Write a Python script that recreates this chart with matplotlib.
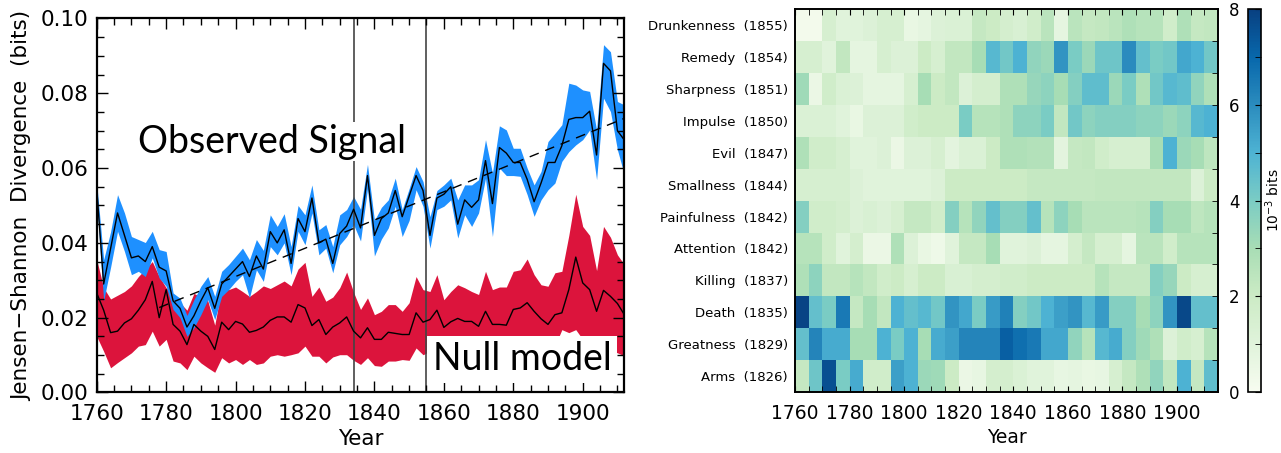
import numpy as np
import matplotlib
matplotlib.use("Agg")
import matplotlib.pyplot as plt
from matplotlib.ticker import MultipleLocator, FixedLocator

plt.rcParams["font.family"] = ["DejaVu Sans"]

# ---- left panel: Jensen-Shannon divergence, observed vs null model ----
years = np.arange(1760, 1913, 2)

obs_mid = [0.0545, 0.029, 0.0385, 0.048, 0.042, 0.036, 0.0365, 0.035, 0.039, 0.0335,
           0.0325, 0.0245, 0.0225, 0.0175, 0.0205, 0.0245, 0.028, 0.0225, 0.029, 0.031,
           0.033, 0.035, 0.031, 0.0365, 0.033, 0.043, 0.040, 0.0435, 0.0345, 0.0465,
           0.043, 0.052, 0.040, 0.041, 0.0345, 0.0425, 0.0445, 0.049, 0.044, 0.058,
           0.042, 0.0465, 0.048, 0.054, 0.047, 0.0525, 0.058, 0.054, 0.042, 0.052,
           0.053, 0.055, 0.045, 0.0515, 0.0495, 0.0515, 0.062, 0.0505, 0.0655, 0.064,
           0.0615, 0.0615, 0.057, 0.051, 0.056, 0.0615, 0.0615, 0.066, 0.073, 0.0735,
           0.0735, 0.0752, 0.0635, 0.088, 0.086, 0.070, 0.0675]
obs_hi = [0.0560, 0.0355, 0.0430, 0.0529, 0.0480, 0.0417, 0.0409, 0.0401, 0.0431, 0.0382,
          0.0377, 0.0266, 0.0252, 0.0206, 0.0248, 0.0284, 0.0310, 0.0257, 0.0324, 0.0342,
          0.0364, 0.0386, 0.0355, 0.0409, 0.0380, 0.0475, 0.0444, 0.0478, 0.0390, 0.0500,
          0.0475, 0.0555, 0.0435, 0.0449, 0.0390, 0.0475, 0.0489, 0.0524, 0.0490, 0.0610,
          0.0460, 0.0495, 0.0515, 0.0573, 0.0489, 0.0545, 0.0604, 0.0564, 0.0470, 0.0540,
          0.0555, 0.0573, 0.0515, 0.0555, 0.0555, 0.0569, 0.0676, 0.0587, 0.0713, 0.0702,
          0.0653, 0.0653, 0.0600, 0.0555, 0.0591, 0.0671, 0.0693, 0.0716, 0.0827, 0.0822,
          0.0809, 0.0805, 0.0702, 0.0930, 0.0911, 0.0778, 0.0769]
obs_lo = [0.0510, 0.0245, 0.0335, 0.0431, 0.0377, 0.0315, 0.0324, 0.0310, 0.0360, 0.0306,
          0.0284, 0.0222, 0.0200, 0.0150, 0.0173, 0.0208, 0.0248, 0.0195, 0.0257, 0.0275,
          0.0297, 0.0315, 0.0253, 0.0328, 0.0297, 0.0390, 0.0368, 0.0400, 0.0315, 0.0431,
          0.0395, 0.0480, 0.0368, 0.0386, 0.0320, 0.0395, 0.0417, 0.0449, 0.0405, 0.0545,
          0.0365, 0.0410, 0.0440, 0.0498, 0.0417, 0.0460, 0.0542, 0.0498, 0.0386, 0.0489,
          0.0498, 0.0515, 0.0413, 0.0475, 0.0444, 0.0480, 0.0573, 0.0417, 0.0600, 0.0580,
          0.0580, 0.0578, 0.0529, 0.0471, 0.0515, 0.0542, 0.0560, 0.0618, 0.0644, 0.0662,
          0.0676, 0.0702, 0.0569, 0.0787, 0.0751, 0.0649, 0.0582]

null_mid = [0.0266, 0.022, 0.016, 0.0164, 0.0186, 0.0197, 0.022, 0.0248, 0.0297, 0.020,
            0.0275, 0.0182, 0.0164, 0.0128, 0.0182, 0.0164, 0.015, 0.0115, 0.0188, 0.0168,
            0.019, 0.0183, 0.0161, 0.0166, 0.0175, 0.0193, 0.0202, 0.0202, 0.0188, 0.0235,
            0.0226, 0.0179, 0.0195, 0.0155, 0.0175, 0.0186, 0.0202, 0.0164, 0.0146, 0.0173,
            0.0142, 0.0142, 0.0161, 0.0158, 0.0155, 0.0155, 0.0213, 0.0188, 0.0195, 0.022,
            0.0174, 0.0189, 0.0198, 0.019, 0.019, 0.0177, 0.0217, 0.0182, 0.0182, 0.018,
            0.0222, 0.0226, 0.024, 0.0217, 0.0197, 0.0182, 0.0208, 0.0213, 0.0275, 0.0362,
            0.0293, 0.0275, 0.0217, 0.0273, 0.0257, 0.0238, 0.0208]
null_hi = [0.0355, 0.0280, 0.0250, 0.0260, 0.0270, 0.0285, 0.0310, 0.0330, 0.0350, 0.0310,
           0.0280, 0.0262, 0.0240, 0.0220, 0.0265, 0.0255, 0.0245, 0.0180, 0.0280, 0.0275,
           0.0282, 0.0270, 0.0257, 0.0270, 0.0285, 0.0278, 0.0288, 0.0298, 0.0285, 0.0330,
           0.0348, 0.0257, 0.0282, 0.0244, 0.0255, 0.0280, 0.0322, 0.0268, 0.0222, 0.0253,
           0.0208, 0.0217, 0.0235, 0.0235, 0.0217, 0.0240, 0.0310, 0.0275, 0.0270, 0.0315,
           0.0248, 0.0270, 0.0288, 0.0280, 0.0270, 0.0262, 0.0324, 0.0275, 0.0282, 0.0282,
           0.0324, 0.0328, 0.0357, 0.0315, 0.0288, 0.0284, 0.0320, 0.0324, 0.0420, 0.0530,
           0.0444, 0.0420, 0.0326, 0.0444, 0.0415, 0.0368, 0.0342]
null_lo = [0.0150, 0.0110, 0.0066, 0.0080, 0.0093, 0.0106, 0.0124, 0.0128, 0.0164, 0.0124,
           0.0142, 0.0084, 0.0079, 0.0061, 0.0097, 0.0079, 0.0066, 0.0054, 0.0093, 0.0079,
           0.0088, 0.0075, 0.0088, 0.0075, 0.0079, 0.0097, 0.0101, 0.0097, 0.0101, 0.0106,
           0.0124, 0.0097, 0.0097, 0.0079, 0.0095, 0.0101, 0.0101, 0.0086, 0.0075, 0.0093,
           0.0072, 0.0070, 0.0084, 0.0084, 0.0088, 0.0086, 0.0119, 0.0101, 0.0110, 0.0115,
           0.0095, 0.0100, 0.0105, 0.0100, 0.0098, 0.0090, 0.0105, 0.0093, 0.0095, 0.0090,
           0.0098, 0.0105, 0.0112, 0.0105, 0.0098, 0.0105, 0.0125, 0.0168, 0.0160, 0.0168,
           0.0142, 0.0128, 0.0124, 0.0119, 0.0113, 0.0106, 0.0098]

trend_years = [1778, 1912]
trend_values = [0.0227, 0.0733]
event_years = [1834, 1855]

# ---- right panel: per-word contribution, 5-year bins ----
bin_edges = np.arange(1760, 1916, 5)
word_labels = ["Arms  (1826)", "Greatness  (1829)", "Death  (1835)", "Killing  (1837)",
               "Attention  (1842)", "Painfulness  (1842)", "Smallness  (1844)", "Evil  (1847)",
               "Impulse  (1850)", "Sharpness  (1851)", "Remedy  (1854)", "Drunkenness  (1855)"]
arms = [2.2, 4.3, 7.6, 4.0, 5.2, 1.8, 1.8, 5.5, 5.0, 3.3, 3.2, 2.0, 0.5, 0.7, 1.6, 1.6,
        1.3, 1.0, 1.0, 0.7, 0.8, 0.6, 0.7, 1.5, 2.2, 2.8, 3.5, 2.3, 5.0, 2.2, 4.6]
greatness = [4.5, 6.2, 5.2, 5.2, 3.0, 3.0, 5.0, 4.0, 5.0, 3.0, 5.2, 5.5, 6.2, 6.2, 6.2, 7.2,
             6.8, 6.5, 5.3, 5.3, 3.5, 2.6, 4.8, 5.2, 3.8, 3.2, 2.8, 1.2, 1.8, 1.5, 2.6]
death = [7.9, 4.5, 4.0, 6.5, 2.2, 3.0, 2.3, 5.0, 4.5, 4.8, 4.2, 5.8, 5.3, 4.0, 5.6, 6.3,
         3.8, 4.2, 5.0, 5.5, 5.8, 4.8, 5.6, 3.8, 3.8, 3.0, 3.6, 5.8, 7.8, 4.5, 4.5]
killing = [2.8, 3.6, 2.3, 2.3, 2.6, 2.3, 1.8, 2.0, 1.5, 2.0, 2.0, 1.4, 1.4, 1.6, 1.6, 1.8,
           1.8, 2.0, 2.0, 2.0, 2.0, 2.0, 2.6, 2.2, 2.2, 2.2, 3.8, 3.4, 2.0, 1.5, 1.5]
attention = [2.6, 2.6, 1.8, 1.0, 1.6, 0.5, 0.5, 2.8, 1.2, 0.6, 0.4, 1.0, 2.2, 2.2, 3.0, 1.0,
             1.0, 1.2, 0.8, 0.8, 1.6, 2.2, 1.5, 1.5, 0.8, 2.5, 2.5, 1.8, 2.6, 2.6, 2.6]
painfulness = [3.8, 1.8, 1.8, 1.6, 1.2, 1.4, 1.2, 1.5, 2.2, 2.2, 1.8, 3.8, 2.6, 3.5, 4.5, 3.8,
               3.8, 4.5, 2.6, 3.6, 3.0, 2.5, 2.5, 2.5, 2.5, 2.6, 3.8, 3.0, 3.0, 2.4, 2.6]
smallness = [1.5, 1.5, 1.5, 1.5, 1.2, 1.0, 1.0, 1.0, 1.0, 1.0, 1.2, 2.0, 2.0, 2.0, 2.0, 2.0,
             2.0, 2.2, 2.2, 2.2, 2.2, 2.2, 2.3, 2.3, 2.3, 2.3, 2.3, 2.3, 2.3, 1.2, 2.0]
evil = [2.8, 1.8, 1.8, 1.5, 1.0, 1.0, 1.2, 0.5, 1.2, 1.2, 1.5, 0.9, 1.3, 1.3, 2.0, 2.8,
        2.8, 2.7, 2.7, 0.9, 2.2, 2.3, 1.8, 1.5, 1.5, 1.5, 3.0, 5.0, 3.3, 3.0, 2.4]
impulse = [1.3, 1.3, 1.3, 1.0, 0.6, 1.2, 1.2, 1.2, 1.8, 2.0, 2.0, 2.0, 4.0, 2.6, 2.6, 2.8,
           3.6, 3.6, 4.0, 2.3, 4.2, 3.6, 3.8, 3.8, 3.8, 3.6, 3.6, 3.3, 3.6, 4.8, 5.0]
sharpness = [3.2, 0.5, 1.8, 1.3, 1.2, 0.8, 0.8, 0.8, 1.5, 3.0, 2.0, 2.3, 1.2, 1.6, 1.6, 2.8,
             2.8, 3.4, 3.6, 3.0, 3.8, 4.6, 4.6, 3.3, 4.0, 2.8, 4.2, 4.8, 4.6, 3.5, 2.8]
remedy = [1.5, 1.5, 1.0, 2.3, 0.8, 0.8, 1.5, 1.2, 1.2, 2.0, 1.5, 2.3, 2.3, 3.0, 4.8, 4.2,
          5.0, 3.5, 3.3, 5.8, 4.0, 3.3, 4.3, 4.3, 6.0, 4.5, 4.0, 4.2, 5.3, 5.0, 4.2]
drunkenness = [0.2, 0.2, 1.5, 1.0, 1.0, 1.2, 1.5, 1.5, 0.6, 0.8, 1.2, 1.3, 1.3, 2.2, 2.0, 1.6,
               1.4, 1.8, 2.5, 0.8, 2.5, 2.2, 2.3, 2.5, 2.8, 2.6, 2.6, 1.8, 2.8, 2.2, 2.3]

heat = np.array([arms, greatness, death, killing, attention, painfulness,
                 smallness, evil, impulse, sharpness, remedy, drunkenness])

fig = plt.figure(figsize=(12.81, 4.53), dpi=100)

# left panel
ax = fig.add_axes([0.0755, 0.1336, 0.4119, 0.8256])
ax.fill_between(years, null_lo, null_hi, color="crimson", lw=0)
ax.plot(years, null_mid, color="black", lw=1.0)
ax.fill_between(years, obs_lo, obs_hi, color="dodgerblue", lw=0)
ax.plot(years, obs_mid, color="black", lw=1.0)
ax.plot(trend_years, trend_values, color="black", lw=1.0, ls=(0, (7, 5)))
for yr in event_years:
    ax.axvline(yr, color="#444444", lw=1.2, zorder=1.5)

ax.text(1771.9, 0.0641, "Observed Signal", family="Lato", fontsize=27,
        ha="left", va="baseline", zorder=5,
        bbox=dict(facecolor="white", edgecolor="none", pad=1))
ax.text(1856.8, 0.0059, "Null model", family="Lato", fontsize=27,
        ha="left", va="baseline", zorder=5,
        bbox=dict(facecolor="white", edgecolor="none", pad=4))

ax.set_xlim(1760, 1912)
ax.set_ylim(0, 0.1)
ax.xaxis.set_major_locator(MultipleLocator(20))
ax.xaxis.set_minor_locator(MultipleLocator(5))
ax.yaxis.set_major_locator(MultipleLocator(0.02))
ax.yaxis.set_minor_locator(MultipleLocator(0.005))
ax.yaxis.set_major_formatter(plt.FormatStrFormatter("%.2f"))
ax.tick_params(which="both", direction="in", top=True, right=True,
               labelsize=15.5, width=1.0)
ax.tick_params(axis="x", pad=8)
ax.tick_params(axis="y", pad=6)
ax.tick_params(which="major", length=8)
ax.tick_params(which="minor", length=5)
for sp in ax.spines.values():
    sp.set_linewidth(1.6)
ax.set_xlabel("Year", fontsize=15.5, labelpad=4)
ax.set_ylabel("Jensen\u2212Shannon  Divergence  (bits)", fontsize=15.5, labelpad=6)

# right panel
hx = fig.add_axes([0.6206, 0.1347, 0.3302, 0.8448])
mesh = hx.pcolormesh(bin_edges, np.arange(len(word_labels) + 1), heat,
                     cmap="GnBu", vmin=0, vmax=8)
hx.set_xlim(1760, 1915)
hx.set_ylim(0, len(word_labels))
hx.xaxis.set_major_locator(MultipleLocator(20))
hx.xaxis.set_minor_locator(MultipleLocator(5))
hx.set_yticks(np.arange(len(word_labels)) + 0.5)
hx.set_yticklabels(word_labels, fontsize=9.5)
hx.yaxis.set_minor_locator(FixedLocator(np.arange(1, len(word_labels))))
hx.tick_params(axis="x", which="both", direction="in", top=True, length=4,
               labelsize=13.5, pad=9)
hx.tick_params(axis="y", which="major", length=0, pad=5)
hx.tick_params(axis="y", which="minor", direction="in", left=False, right=True, length=4)
for sp in hx.spines.values():
    sp.set_linewidth(1.4)
hx.set_xlabel("Year", fontsize=13.5, labelpad=3)

cax = fig.add_axes([0.9742, 0.1347, 0.0101, 0.8448])
cb = fig.colorbar(mesh, cax=cax, ticks=[0, 2, 4, 6, 8])
cb.outline.set_linewidth(1.2)
cax.yaxis.set_minor_locator(MultipleLocator(1))
cax.tick_params(which="both", direction="in", left=False, right=True,
                labelleft=True, labelright=False, length=4, labelsize=12, pad=6)
cax.text(1.95, 0.5, r"$10^{-3}$ bits", transform=cax.transAxes, rotation=90,
         ha="center", va="center", fontsize=10)

fig.savefig("out.png", dpi=100)
